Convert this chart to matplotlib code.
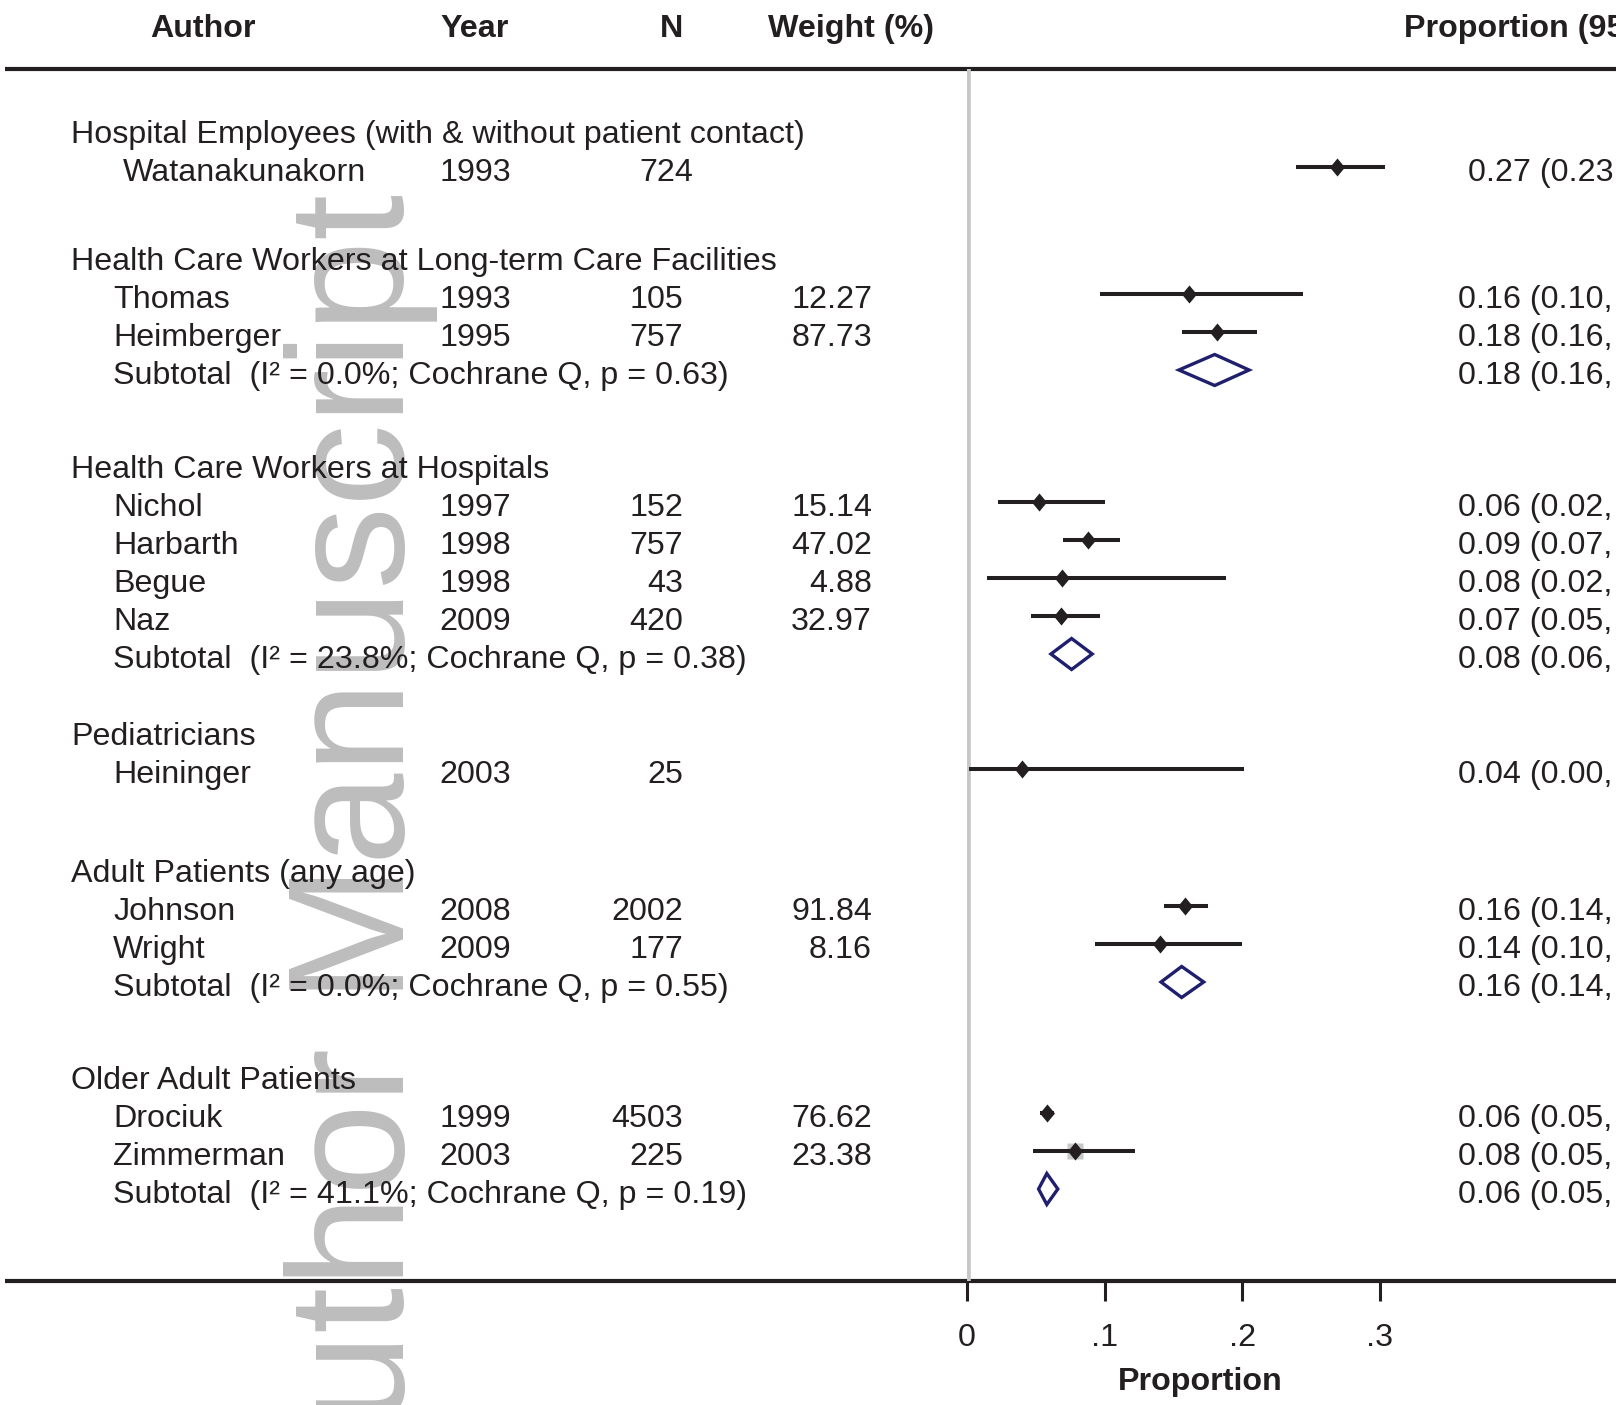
import matplotlib
matplotlib.use("Agg")
import matplotlib.pyplot as plt
from matplotlib.patches import Polygon

plt.rcParams['font.family'] = ['Liberation Sans', 'DejaVu Sans']
plt.rcParams['font.size'] = 23.2

W, H = 1616, 1405
INK = '#231f20'
NAVY = '#1f1f6e'

# ---- data ----
groups = ["Hospital Employees (with & without patient contact)",
          "Health Care Workers at Long-term Care Facilities",
          "Health Care Workers at Hospitals",
          "Pediatricians",
          "Adult Patients (any age)",
          "Older Adult Patients"]

authors = [["Watanakunakorn"],
           ["Thomas", "Heimberger"],
           ["Nichol", "Harbarth", "Begue", "Naz"],
           ["Heininger"],
           ["Johnson", "Wright"],
           ["Drociuk", "Zimmerman"]]
years = [[1993], [1993, 1995], [1997, 1998, 1998, 2009], [2003], [2008, 2009], [1999, 2003]]
n_sizes = [[724], [105, 757], [152, 757, 43, 420], [25], [2002, 177], [4503, 225]]
weights = [[None], [12.27, 87.73], [15.14, 47.02, 4.88, 32.97], [None], [91.84, 8.16], [76.62, 23.38]]

est = [[0.269], [0.161, 0.182], [0.052, 0.088, 0.069, 0.068], [0.040], [0.1585, 0.140], [0.058, 0.0785]]
lo = [[0.239], [0.097, 0.156], [0.0225, 0.070, 0.0145, 0.0465], [0.0015], [0.143, 0.093], [0.053, 0.048]]
hi = [[0.304], [0.244, 0.211], [0.100, 0.111, 0.188, 0.0965], [0.201], [0.175, 0.200], [0.063, 0.122]]
est_text = [["0.27 (0.23, 0.30)"],
            ["0.16 (0.10, 0.24)", "0.18 (0.16, 0.21)"],
            ["0.06 (0.02, 0.10)", "0.09 (0.07, 0.11)", "0.08 (0.02, 0.19)", "0.07 (0.05, 0.10)"],
            ["0.04 (0.00, 0.20)"],
            ["0.16 (0.14, 0.18)", "0.14 (0.10, 0.20)"],
            ["0.06 (0.05, 0.07)", "0.08 (0.05, 0.12)"]]

sub_i2 = [None, "0.0", "23.8", None, "0.0", "41.1"]
sub_p = [None, "0.63", "0.38", None, "0.55", "0.19"]
sub_est = [None, 0.180, 0.076, None, 0.156, 0.058]
sub_lo = [None, 0.154, 0.061, None, 0.141, 0.052]
sub_hi = [None, 0.205, 0.091, None, 0.172, 0.066]
sub_text = [None, "0.18 (0.16, 0.21)", "0.08 (0.06, 0.09)", None, "0.16 (0.14, 0.17)", "0.06 (0.05, 0.07)"]

ticks = [0, 0.1, 0.2, 0.3]
tick_labels = ["0", ".1", ".2", ".3"]
boxed = ["Zimmerman"]          # studies whose weight box shows
nudge = {"Watanakunakorn": 10}  # that row sits a little to the right

# ---- layout (pixels from the top) ----
step, dy = 38, 6
gaps = [89, 94, 77, 99, 93]     # last row of a group -> next group title
top_line, bottom_line = 69, 1281
x0_px, px_per_unit = 967, 1376

fig = plt.figure(figsize=(W / 100, H / 100), dpi=100)
bg = fig.add_axes([0, 0, 1, 1])
bg.set_xlim(0, W)
bg.set_ylim(H, 0)
bg.axis('off')

ax = fig.add_axes([x0_px / W, (H - bottom_line) / H, (W - x0_px) / W, (bottom_line - top_line) / H])
ax.set_xlim(0, (W - x0_px) / px_per_unit)
ax.set_ylim(bottom_line, top_line)
ax.patch.set_visible(False)
for s in ax.spines.values():
    s.set_visible(False)
ax.set_yticks([])
ax.set_xticks(ticks, tick_labels)
ax.tick_params(axis='x', length=14.4, width=2.2, color=INK, pad=16, labelsize=23.2, labelcolor=INK)
ax.set_xlabel("Proportion", fontweight='bold', color=INK)
ax.xaxis.set_label_coords((1200 - x0_px) / (W - x0_px), -(1382 - bottom_line) / (bottom_line - top_line))
ax.xaxis.label.set_va('center')

# watermark
bg.text(404, 1535, "Author Manuscript", rotation=90, rotation_mode='anchor',
        ha='left', va='baseline', fontsize=119, color='#bdbdbd', zorder=0)

# header
hy = 29
kw = dict(va='center', fontweight='bold', color=INK, zorder=3)
bg.text(203, hy, "Author", ha='center', **kw)
bg.text(475, hy, "Year", ha='center', **kw)
bg.text(672, hy, "N", ha='center', **kw)
bg.text(851, hy, "Weight (%)", ha='center', **kw)
bg.text(1404, hy, "Proportion (95% CI)", ha='left', **kw)

# rules
bg.hlines([top_line, bottom_line], 5, W, color=INK, lw=3, zorder=2)
ax.axvline(0, color='#c6c7c9', lw=4.8, zorder=1)

tk = dict(va='center', color=INK, zorder=3)
y = 129
for g, name in enumerate(groups):
    bg.text(71, y + dy, name, ha='left', **tk)
    y += step
    for i, a in enumerate(authors[g]):
        off = nudge.get(a, 0)
        bg.text(113 + off, y + dy, a, ha='left', **tk)
        bg.text(439, y + dy, str(years[g][i]), ha='left', **tk)
        bg.text(683 + off, y + dy, str(n_sizes[g][i]), ha='right', **tk)
        if weights[g][i] is not None:
            bg.text(872, y + dy, f"{weights[g][i]:.2f}", ha='right', **tk)
        bg.text(1458 + off, y + dy, est_text[g][i], ha='left', **tk)
        if a in boxed:
            ax.plot(est[g][i], y, marker='s', ms=11, color='#c8c8c8', mec='none', zorder=2)
        ax.plot([lo[g][i], hi[g][i]], [y, y], color=INK, lw=2.9, solid_capstyle='butt', zorder=3)
        ax.plot(est[g][i], y, marker=[(0, 1), (0.83, 0), (0, -1), (-0.83, 0)], ms=13,
                color=INK, mec='none', zorder=4)
        y += step
    if sub_est[g] is not None:
        bg.text(113, y + dy, f"Subtotal  (I\u00b2 = {sub_i2[g]}%; Cochrane Q, p = {sub_p[g]})", ha='left', **tk)
        bg.text(1458, y + dy, sub_text[g], ha='left', **tk)
        h = 15.5
        ax.add_patch(Polygon([(sub_lo[g], y), (sub_est[g], y - h), (sub_hi[g], y), (sub_est[g], y + h)],
                             closed=True, fill=False, ec=NAVY, lw=2.4, zorder=4))
        y += step
    if g < len(gaps):
        y += gaps[g] - step

fig.savefig("out.png", dpi=100)
